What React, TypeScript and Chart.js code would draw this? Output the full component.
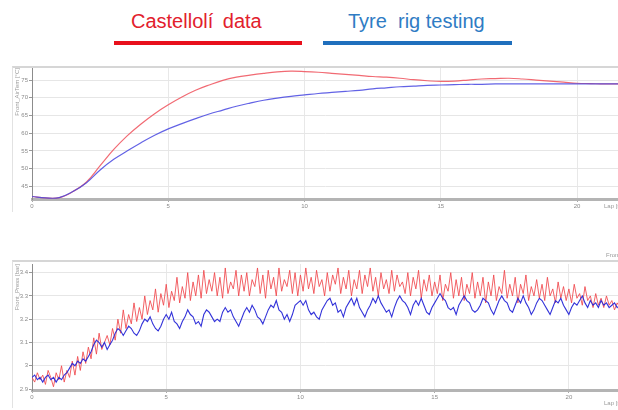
import React, { useEffect, useRef } from "react";
import { Chart, registerables } from "chart.js";
Chart.register(...registerables);

const FONT = "'Liberation Sans', Arial, sans-serif";

// ---- Top chart: air temperature ----
const tempTimeStep = 0.5;
const castelloliTemp = [
  42.1, 41.7, 41.8, 43.5, 46.2, 50.8, 55.4, 59.3, 62.6, 65.5, 68.0, 70.2, 72.1, 73.6, 74.9,
  75.8, 76.4, 76.9, 77.3, 77.5, 77.4, 77.2, 76.9, 76.6, 76.3, 76.0, 75.8, 75.5, 75.1, 74.8,
  74.6, 74.7, 75.0, 75.3, 75.4, 75.5, 75.3, 75.0, 74.7, 74.4, 74.1, 74.0, 73.9, 73.9,
];
const tyreRigTemp = [
  42.1, 41.7, 41.8, 43.5, 46.0, 49.6, 52.6, 55.0, 57.3, 59.4, 61.2, 62.7, 64.1, 65.4, 66.5,
  67.6, 68.5, 69.3, 69.9, 70.4, 70.8, 71.2, 71.5, 71.8, 72.1, 72.5, 72.8, 73.1, 73.3, 73.5,
  73.6, 73.7, 73.8, 73.8, 73.9, 73.9, 73.9, 73.9, 73.9, 73.9, 73.9, 73.9, 73.9, 73.9,
];
const tempYTicks = [45, 50, 55, 60, 65, 70, 75];
const tempYTickLabels = ["45", "50", "55", "60", "65", "70", "75"];

// ---- Bottom chart: pressure ----
const pressTimeStep = 0.1;
const castelloliPress = [
  2.95, 2.93, 2.97, 2.94, 2.96, 2.92, 2.98, 2.95, 2.91, 2.97,
  2.94, 3.0, 2.93, 2.98, 2.95, 3.02, 2.96, 3.04, 2.98, 3.06,
  3.01, 3.08, 3.03, 3.12, 3.05, 3.14, 3.07, 3.1, 3.13, 3.09,
  3.16, 3.11, 3.2, 3.14, 3.24, 3.16, 3.22, 3.18, 3.27, 3.19,
  3.25, 3.2, 3.3, 3.22, 3.28, 3.24, 3.33, 3.23, 3.31, 3.26,
  3.35, 3.25, 3.32, 3.28, 3.38, 3.27, 3.34, 3.29, 3.4, 3.28,
  3.36, 3.3, 3.39, 3.29, 3.41, 3.31, 3.37, 3.32, 3.4, 3.3,
  3.38, 3.29, 3.42, 3.31, 3.36, 3.33, 3.41, 3.3, 3.39, 3.32,
  3.4, 3.3, 3.37, 3.34, 3.42, 3.31, 3.39, 3.29, 3.41, 3.33,
  3.38, 3.3, 3.42, 3.32, 3.37, 3.34, 3.41, 3.31, 3.4, 3.3,
  3.39, 3.32, 3.42, 3.33, 3.38, 3.31, 3.41, 3.34, 3.37, 3.3,
  3.4, 3.32, 3.39, 3.35, 3.42, 3.31, 3.38, 3.33, 3.41, 3.3,
  3.37, 3.33, 3.41, 3.31, 3.39, 3.34, 3.42, 3.32, 3.38, 3.3,
  3.4, 3.33, 3.37, 3.31, 3.41, 3.32, 3.39, 3.34, 3.36, 3.31,
  3.4, 3.3, 3.38, 3.33, 3.41, 3.29, 3.37, 3.32, 3.39, 3.3,
  3.36, 3.31, 3.39, 3.28, 3.35, 3.32, 3.4, 3.29, 3.37, 3.3,
  3.38, 3.28, 3.35, 3.31, 3.4, 3.29, 3.36, 3.3, 3.38, 3.27,
  3.36, 3.3, 3.39, 3.28, 3.34, 3.31, 3.41, 3.29, 3.35, 3.3,
  3.38, 3.27, 3.35, 3.31, 3.39, 3.28, 3.34, 3.3, 3.37, 3.29,
  3.35, 3.28, 3.38, 3.3, 3.33, 3.27, 3.36, 3.29, 3.34, 3.28,
  3.33, 3.27, 3.35, 3.29, 3.31, 3.26, 3.34, 3.28, 3.3, 3.25,
  3.31, 3.26, 3.29, 3.25, 3.3, 3.26, 3.28, 3.24, 3.27, 3.25,
];
const tyreRigPress = [
  2.95, 2.96, 2.94, 2.95, 2.93, 2.95, 2.96, 2.94, 2.95, 2.93,
  2.95, 2.94, 2.96, 2.97, 2.99, 3.01, 3.0, 3.02, 3.01, 3.03,
  3.02, 3.04, 3.06, 3.09, 3.11, 3.1, 3.08, 3.1, 3.07, 3.09,
  3.11, 3.14, 3.16, 3.15, 3.13, 3.15, 3.17, 3.16, 3.14, 3.13,
  3.15, 3.18, 3.2, 3.19, 3.21, 3.18, 3.16, 3.15, 3.17, 3.2,
  3.22, 3.2, 3.23, 3.19, 3.18, 3.16, 3.19, 3.21, 3.24, 3.22,
  3.21, 3.18, 3.19, 3.17, 3.22, 3.24, 3.23, 3.21, 3.19, 3.2,
  3.19, 3.23, 3.25, 3.23, 3.24, 3.21, 3.19, 3.17, 3.2, 3.23,
  3.25, 3.23, 3.26, 3.24, 3.21, 3.2, 3.18, 3.21, 3.24, 3.26,
  3.25, 3.28, 3.24, 3.23, 3.2, 3.22, 3.19, 3.22, 3.26, 3.27,
  3.28, 3.26, 3.28, 3.24, 3.22, 3.23, 3.21, 3.2, 3.24, 3.26,
  3.28, 3.29, 3.26, 3.27, 3.23, 3.24, 3.21, 3.25, 3.27, 3.29,
  3.26, 3.29, 3.25, 3.23, 3.21, 3.24, 3.26, 3.29, 3.27, 3.3,
  3.27, 3.25, 3.23, 3.24, 3.21, 3.25, 3.28, 3.3, 3.28, 3.27,
  3.25, 3.22, 3.26, 3.28, 3.26, 3.29, 3.26, 3.23, 3.22, 3.25,
  3.27, 3.29, 3.31, 3.29, 3.28, 3.25, 3.24, 3.25, 3.22, 3.26,
  3.28, 3.3, 3.28, 3.27, 3.24, 3.23, 3.24, 3.26, 3.29, 3.28,
  3.27, 3.24, 3.22, 3.25, 3.28, 3.3, 3.28, 3.27, 3.24, 3.23,
  3.26, 3.29, 3.27, 3.3, 3.27, 3.25, 3.22, 3.24, 3.27, 3.29,
  3.28, 3.26, 3.24, 3.22, 3.25, 3.28, 3.27, 3.29, 3.26, 3.24,
  3.22, 3.25, 3.27, 3.26, 3.28, 3.3, 3.27, 3.25, 3.28, 3.26,
  3.27, 3.25, 3.28, 3.26, 3.27, 3.25, 3.26, 3.27, 3.25, 3.26,
];
const pressYTicks = [2.9, 3, 3.1, 3.2, 3.3, 3.4];
const pressYTickLabels = ["2.9", "3", "3.1", "3.2", "3.3", "3.4"];

const xTicks = [0, 5, 10, 15, 20];
const xTickLabels = ["0", "5", "10", "15", "20"];

const seriesNames = ["Castellolí data", "Tyre rig testing"];

function toPoints(values: number[], step: number) {
  return values.map((v, i) => ({ x: +(i * step).toFixed(3), y: v }));
}

function buildOptions(cfg: {
  yMin: number;
  yMax: number;
  xMax: number;
  yTicks: number[];
  yLabels: string[];
  yTitle: string;
  padTop: number;
  xHeight: number;
}): any {
  return {
    animation: false,
    responsive: false,
    maintainAspectRatio: false,
    events: [],
    layout: { padding: { top: cfg.padTop, left: 0, right: 0, bottom: 0 } },
    plugins: { legend: { display: false }, tooltip: { enabled: false } },
    elements: { point: { radius: 0 } },
    scales: {
      x: {
        type: "linear",
        min: 0,
        max: cfg.xMax,
        afterBuildTicks: (s: any) => {
          s.ticks = xTicks.map((v) => ({ value: v }));
        },
        afterFit: (s: any) => {
          s.height = cfg.xHeight;
        },
        ticks: {
          font: { size: 6, family: FONT },
          color: "#8a8a8a",
          padding: 1,
          maxRotation: 0,
          autoSkip: false,
          callback: (v: any) => xTickLabels[xTicks.indexOf(v)] ?? "",
        },
        grid: {
          color: (c: any) => (c.tick && c.tick.value === 0 ? "rgba(0,0,0,0)" : "#e8e8e8"),
          tickLength: 3,
          tickColor: "#aaaaaa",
        },
        border: { color: "#b4b4b4", width: 3 },
      },
      y: {
        type: "linear",
        min: cfg.yMin,
        max: cfg.yMax,
        afterBuildTicks: (s: any) => {
          s.ticks = cfg.yTicks.map((v) => ({ value: v }));
        },
        afterFit: (s: any) => {
          s.width = 32;
        },
        ticks: {
          font: { size: 6, family: FONT },
          color: "#8a8a8a",
          padding: 1,
          autoSkip: false,
          callback: (v: any) => cfg.yLabels[cfg.yTicks.indexOf(v)] ?? "",
        },
        grid: { color: "#e6e6e6", tickLength: 3, tickColor: "#999999" },
        border: { color: "#8c8c8c", width: 1 },
        title: {
          display: true,
          text: cfg.yTitle,
          align: "end",
          color: "#999999",
          font: { size: 6, family: FONT },
          padding: { top: 14, bottom: 0 },
        },
      },
    },
  };
}

export default function App() {
  const topRef = useRef<HTMLCanvasElement | null>(null);
  const botRef = useRef<HTMLCanvasElement | null>(null);

  useEffect(() => {
    const top = new Chart(topRef.current as HTMLCanvasElement, {
      type: "line",
      data: {
        datasets: [
          {
            label: seriesNames[1],
            data: toPoints(tyreRigTemp, tempTimeStep),
            borderColor: "rgba(70,70,225,0.85)",
            borderWidth: 1.2,
            tension: 0.4,
            pointRadius: 0,
          },
          {
            label: seriesNames[0],
            data: toPoints(castelloliTemp, tempTimeStep),
            borderColor: "rgba(240,90,100,0.9)",
            borderWidth: 1.2,
            tension: 0.4,
            pointRadius: 0,
          },
        ],
      },
      options: buildOptions({
        yMin: 41.4,
        yMax: 78.4,
        xMax: 21.5,
        yTicks: tempYTicks,
        yLabels: tempYTickLabels,
        yTitle: "Front_AirTem [°C]",
        padTop: 8,
        xHeight: 21,
      }),
    });
    const bot = new Chart(botRef.current as HTMLCanvasElement, {
      type: "line",
      data: {
        datasets: [
          {
            label: seriesNames[1],
            data: toPoints(tyreRigPress, pressTimeStep),
            borderColor: "rgba(40,40,215,0.95)",
            borderWidth: 1.1,
            tension: 0,
            pointRadius: 0,
          },
          {
            label: seriesNames[0],
            data: toPoints(castelloliPress, pressTimeStep),
            borderColor: "rgba(240,70,75,0.85)",
            borderWidth: 1,
            tension: 0,
            pointRadius: 0,
          },
        ],
      },
      options: buildOptions({
        yMin: 2.896,
        yMax: 3.437,
        xMax: 21.83,
        yTicks: pressYTicks,
        yLabels: pressYTickLabels,
        yTitle: "Front_Press [bar]",
        padTop: 9,
        xHeight: 20,
      }),
    });
    return () => {
      top.destroy();
      bot.destroy();
    };
  }, []);

  const abs: React.CSSProperties = { position: "absolute" };
  const tiny: React.CSSProperties = {
    position: "absolute",
    fontFamily: FONT,
    fontSize: 6,
    color: "#999",
    whiteSpace: "nowrap",
    lineHeight: "7px",
  };

  return (
    <div
      style={{
        position: "fixed",
        left: 0,
        top: 0,
        width: 618,
        height: 410,
        background: "#fff",
        overflow: "hidden",
      }}
    >
      {/* header legend */}
      <div
        style={{
          ...abs,
          left: 131,
          top: 8,
          fontFamily: FONT,
          fontSize: 20,
          color: "#e2202c",
          whiteSpace: "nowrap",
          wordSpacing: 4,
          lineHeight: "26px",
        }}
      >
        {seriesNames[0]}
      </div>
      <div style={{ ...abs, left: 114, top: 41, width: 188, height: 4, background: "#e8101c" }} />
      <div
        style={{
          ...abs,
          left: 348,
          top: 8,
          fontFamily: FONT,
          fontSize: 20,
          color: "#2f7cc4",
          whiteSpace: "nowrap",
          lineHeight: "26px",
        }}
      >
        Tyre&nbsp; rig testing
      </div>
      <div style={{ ...abs, left: 323, top: 41, width: 189, height: 4, background: "#1f6fbd" }} />

      {/* panel frames */}
      <div
        style={{
          ...abs,
          left: 12,
          top: 66,
          width: 610,
          height: 144,
          borderTop: "2px solid #d6d6d6",
          borderLeft: "1px solid #e2e2e2",
        }}
      />
      <div
        style={{
          ...abs,
          left: 12,
          top: 260,
          width: 610,
          height: 146,
          borderTop: "2px solid #d6d6d6",
          borderLeft: "1px solid #e2e2e2",
        }}
      />

      <canvas ref={topRef} width={618} height={160} style={{ ...abs, left: 0, top: 60, width: 618, height: 160 }} />
      <canvas ref={botRef} width={618} height={155} style={{ ...abs, left: 0, top: 255, width: 618, height: 155 }} />

      <div style={{ ...tiny, left: 604, top: 203 }}>Lap [s]</div>
      <div style={{ ...tiny, left: 604, top: 400 }}>Lap [s]</div>
      <div style={{ ...tiny, left: 606, top: 252 }}>Front_Press</div>
    </div>
  );
}
